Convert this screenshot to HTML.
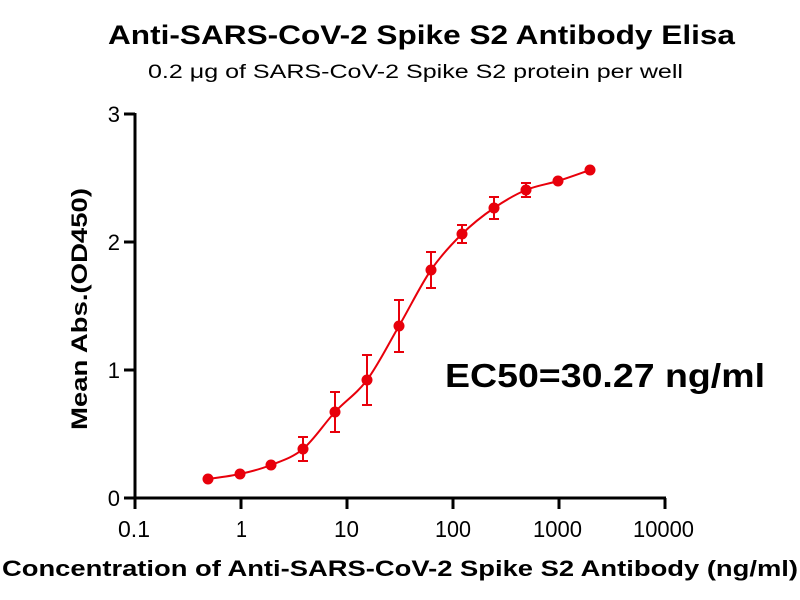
<!DOCTYPE html>
<html><head><meta charset="utf-8"><style>
html,body{margin:0;padding:0;background:#fff;}
svg{display:block;font-family:"Liberation Sans",Arial,sans-serif;}
</style></head><body>
<svg id="s" width="800" height="600" viewBox="0 0 800 600" xmlns="http://www.w3.org/2000/svg">
<rect width="800" height="600" fill="#fff"/>
<text x="108" y="44" font-size="27" font-weight="bold" textLength="627" lengthAdjust="spacingAndGlyphs">Anti-SARS-CoV-2 Spike S2 Antibody Elisa</text>
<text x="148" y="78" font-size="19" textLength="535" lengthAdjust="spacingAndGlyphs">0.2 μg of SARS-CoV-2 Spike S2 protein per well</text>
<g stroke="#000" stroke-width="3" fill="none">
<line x1="135" y1="113" x2="135" y2="499"/>
<line x1="124" y1="498" x2="666" y2="498"/>
<line x1="124" y1="114" x2="135" y2="114"/>
<line x1="124" y1="242" x2="135" y2="242"/>
<line x1="124" y1="370" x2="135" y2="370"/>
<line x1="135" y1="498" x2="135" y2="509"/>
<line x1="241" y1="498" x2="241" y2="509"/>
<line x1="347" y1="498" x2="347" y2="509"/>
<line x1="453" y1="498" x2="453" y2="509"/>
<line x1="559" y1="498" x2="559" y2="509"/>
<line x1="665" y1="498" x2="665" y2="509"/>
</g>
<g font-size="22" text-anchor="end">
<text x="120" y="122">3</text>
<text x="120" y="250">2</text>
<text x="120" y="378">1</text>
<text x="120" y="506">0</text>
</g>
<g font-size="23">
<text x="118" y="537" textLength="32" lengthAdjust="spacingAndGlyphs">0.1</text>
<text x="236" y="537" textLength="11" lengthAdjust="spacingAndGlyphs">1</text>
<text x="334" y="537" textLength="25" lengthAdjust="spacingAndGlyphs">10</text>
<text x="435" y="537" textLength="36" lengthAdjust="spacingAndGlyphs">100</text>
<text x="533" y="537" textLength="49" lengthAdjust="spacingAndGlyphs">1000</text>
<text x="633" y="537" textLength="61" lengthAdjust="spacingAndGlyphs">10000</text>
</g>
<text x="2" y="576" font-size="22" font-weight="bold" textLength="796" lengthAdjust="spacingAndGlyphs">Concentration of Anti-SARS-CoV-2 Spike S2 Antibody (ng/ml)</text>
<text transform="translate(87,430) rotate(-90)" font-size="22" font-weight="bold" textLength="242" lengthAdjust="spacingAndGlyphs">Mean Abs.(OD450)</text>
<text x="445" y="387" font-size="33" font-weight="bold" textLength="320" lengthAdjust="spacingAndGlyphs">EC50=30.27 ng/ml</text>
<path id="curve" d="" stroke="#e8000b" stroke-width="2" fill="none"/>
<g stroke="#e8000b" stroke-width="2" fill="none">
<path d="M303 437V461M298 437H308M298 461H308"/>
<path d="M335 392V432M330 392H340M330 432H340"/>
<path d="M367 355V405M362 355H372M362 405H372"/>
<path d="M399 300V352M394 300H404M394 352H404"/>
<path d="M431 252V288M426 252H436M426 288H436"/>
<path d="M462 225V243M457 225H467M457 243H467"/>
<path d="M494 197V219M489 197H499M489 219H499"/>
<path d="M526 183V197M521 183H531M521 197H531"/>
</g>
<g fill="#e8000b">
<circle cx="208" cy="479" r="5.5"/><circle cx="240" cy="474" r="5.5"/><circle cx="271" cy="465" r="5.5"/>
<circle cx="303" cy="449" r="5.5"/><circle cx="335" cy="412" r="5.5"/><circle cx="367" cy="380" r="5.5"/>
<circle cx="399" cy="326" r="5.5"/><circle cx="431" cy="270" r="5.5"/><circle cx="462" cy="234" r="5.5"/>
<circle cx="494" cy="208" r="5.5"/><circle cx="526" cy="190" r="5.5"/><circle cx="558" cy="181" r="5.5"/>
<circle cx="590" cy="170" r="5.5"/>
</g>
</svg>
<script>
var P=[[208,479],[240,474],[271,465],[303,449],[335,412],[367,380],[399,326],[431,270],[462,234],[494,208],[526,190],[558,181],[590,170]];
var d="M"+P[0][0]+" "+P[0][1];
for(var i=0;i<P.length-1;i++){var p0=P[Math.max(i-1,0)],p1=P[i],p2=P[i+1],p3=P[Math.min(i+2,P.length-1)];
var c1x=p1[0]+(p2[0]-p0[0])/6,c1y=p1[1]+(p2[1]-p0[1])/6,c2x=p2[0]-(p3[0]-p1[0])/6,c2y=p2[1]-(p3[1]-p1[1])/6;
d+="C"+c1x.toFixed(1)+" "+c1y.toFixed(1)+" "+c2x.toFixed(1)+" "+c2y.toFixed(1)+" "+p2[0]+" "+p2[1];}
document.getElementById("curve").setAttribute("d",d);
</script>
</body></html>
